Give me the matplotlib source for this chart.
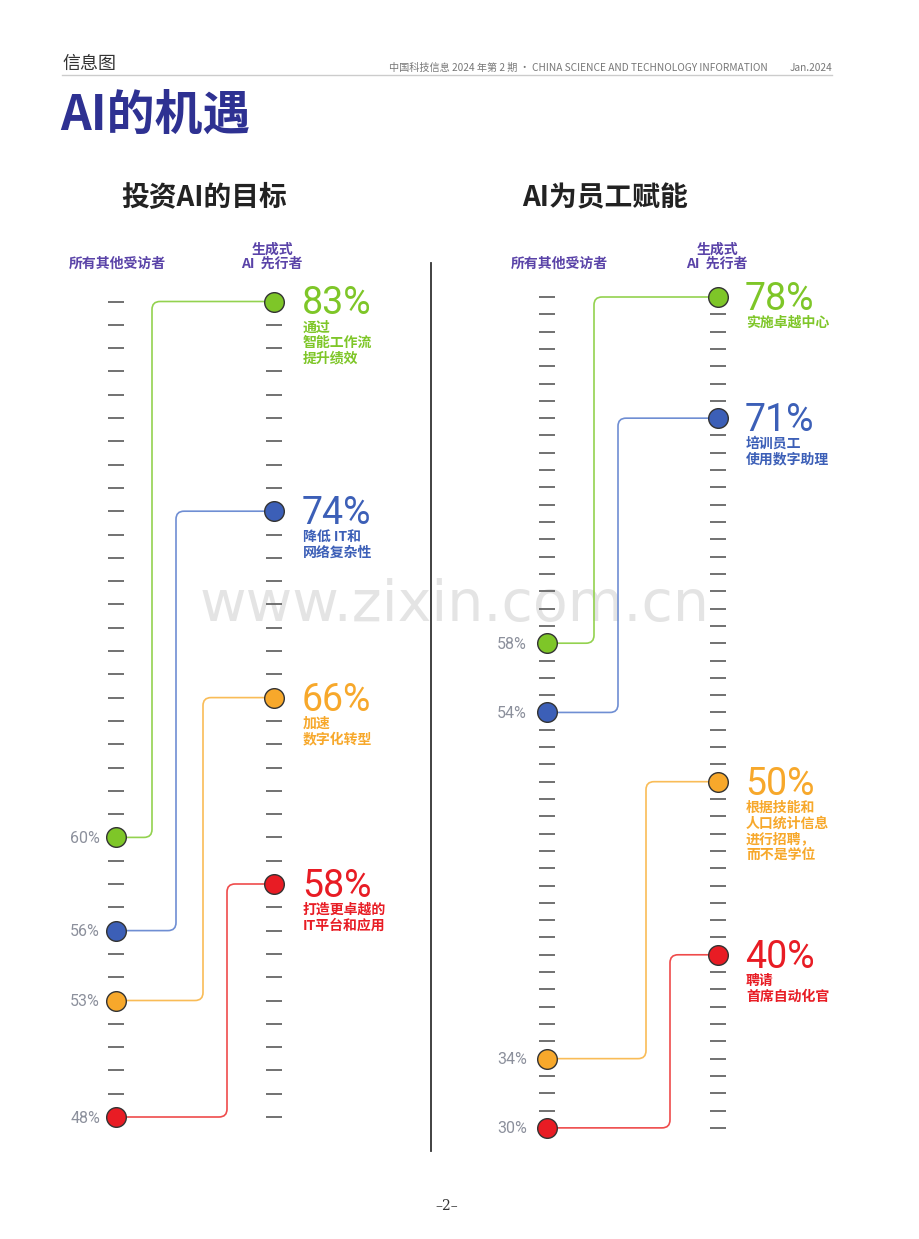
"""AI的机遇 infographic: slope-style comparison of AI leaders vs. other respondents."""

import matplotlib

matplotlib.use("Agg")
import matplotlib.pyplot as plt  # noqa: E402
from matplotlib.path import Path  # noqa: E402
from matplotlib.patches import PathPatch  # noqa: E402

CJK = ["Noto Sans CJK SC", "DejaVu Sans"]
NUM = ["Roboto", "DejaVu Sans"]
plt.rcParams["font.family"] = CJK

# ---- data -------------------------------------------------------------
goal_labels = ["通过\n智能工作流\n提升绩效", "降低 IT和\n网络复杂性", "加速\n数字化转型", "打造更卓越的\nIT平台和应用"]
goal_leaders = [83, 74, 66, 58]
goal_others = [60, 56, 53, 48]

staff_labels = ["实施卓越中心", "培训员工\n使用数字助理", "根据技能和\n人口统计信息\n进行招聘，\n而不是学位", "聘请\n首席自动化官"]
staff_leaders = [78, 71, 50, 40]
staff_others = [58, 54, 34, 30]

DOT = ["#7ec628", "#3c5fb7", "#f7a82b", "#e81c24"]
LINE = ["#93d24f", "#6f8ed3", "#f9bc57", "#ef4b4b"]
PURPLE = "#5a43a8"
W, H = 920, 1239

fig = plt.figure(figsize=(W / 100, H / 100), dpi=100)
deco = fig.add_axes([0, 0, 1, 1])
deco.set_xlim(0, W)
deco.set_ylim(H, 0)
deco.axis("off")


def panel_axes(top_val, top_px, px_per_pt):
    """Full-figure axes whose y axis is in percent, x in pixels."""
    ax = fig.add_axes([0, 0, 1, 1])
    ax.patch.set_alpha(0)
    ax.set_xlim(0, W)
    ax.set_ylim(top_val - (H - top_px) / px_per_pt, top_val + top_px / px_per_pt)
    ax.axis("off")
    return ax


def draw_panel(ax, scale, lo, hi, others, leaders, labels, xl, xr, xvs, lbl_x, val_x):
    for v in range(lo, hi + 1):
        for xc in (xl, xr):
            ax.plot([xc - 8, xc + 8], [v, v], color="#666666", lw=1.3, zorder=1,
                    solid_capstyle="butt")
    r = 8
    ry = r / scale
    for i, (a, b) in enumerate(zip(others, leaders)):
        xv = xvs[i]
        verts = [(xl, a), (xv - r, a), (xv, a), (xv, a + ry), (xv, b - ry), (xv, b),
                 (xv + r, b), (xr, b)]
        codes = [Path.MOVETO, Path.LINETO, Path.CURVE3, Path.CURVE3, Path.LINETO,
                 Path.CURVE3, Path.CURVE3, Path.LINETO]
        ax.add_patch(PathPatch(Path(verts, codes), fill=False, edgecolor=LINE[i],
                               lw=1.2, zorder=2))
        ax.scatter([xl, xr], [a, b], s=200, color=DOT[i], edgecolor="#333333",
                   linewidth=1.0, zorder=3)
        ax.annotate(f"{a}%", (val_x, a), xytext=(0, -5.5), textcoords="offset pixels",
                    ha="right", va="baseline", fontsize=11.5, color="#8c909c", family=NUM)
        ax.annotate(f"{b}%", (lbl_x, b), xytext=(0, -13), textcoords="offset pixels",
                    ha="left", va="baseline", fontsize=27, color=DOT[i], family=NUM)
        ax.annotate(labels[i], (lbl_x, b), xytext=(1, -19), textcoords="offset pixels",
                    ha="left", va="top", fontsize=10, fontweight="bold",
                    color=DOT[i], linespacing=1.15)


left = panel_axes(83, 301.5, 23.30)
draw_panel(left, 23.30, 48, 83, goal_others, goal_leaders, goal_labels,
           116, 274, [152, 176, 203, 227], 302, 100)

right = panel_axes(78, 297, 17.31)
draw_panel(right, 17.31, 30, 78, staff_others, staff_leaders, staff_labels,
           547, 718, [594, 618, 646, 670], 745, 527)

# ---- page furniture ---------------------------------------------------
deco.text(62, 64, "信息图", fontsize=13, color="#333333", va="center", ha="left")
deco.plot([62, 832], [75, 75], color="#cccccc", lw=1)
deco.text(768, 68, "中国科技信息 2024 年第 2 期 · CHINA SCIENCE AND TECHNOLOGY INFORMATION",
          fontsize=7.3, color="#777777", ha="right", va="center")
deco.text(832, 68, "Jan.2024", fontsize=7.3, color="#777777", ha="right", va="center")
deco.text(60, 115, "AI的机遇", fontsize=34.5, fontweight="bold", color="#2e3192",
          ha="left", va="center")

deco.text(204, 198, "投资AI的目标", fontsize=20, fontweight="bold", color="#222222",
          ha="center", va="center")
deco.text(605, 198, "AI为员工赋能", fontsize=20, fontweight="bold", color="#222222",
          ha="center", va="center")

for cx, gx in ((117, 272), (559, 717)):
    deco.text(cx, 264, "所有其他受访者", fontsize=10, fontweight="bold", color=PURPLE,
              ha="center", va="center")
    deco.text(gx, 257, "生成式\nAI  先行者", fontsize=10, fontweight="bold", color=PURPLE,
              ha="center", va="center", linespacing=1.0)

deco.plot([431, 431], [263, 1151], color="#333333", lw=1.3)

deco.text(455, 605, "www.zixin.com.cn", fontsize=41, color="#d9d9d9", alpha=0.7,
          ha="center", va="center", family=["DejaVu Sans"], zorder=0)
deco.text(447, 1206, "–2–", fontsize=10, color="#333333", ha="center", va="center",
          family=["DejaVu Serif"])

fig.savefig("out.png", dpi=100)
